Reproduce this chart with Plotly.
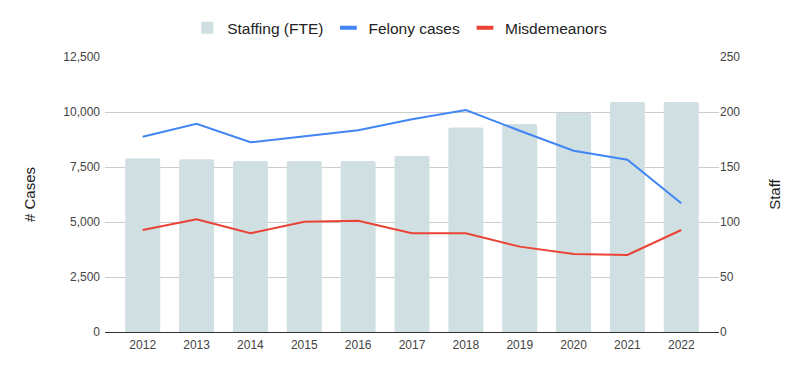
import plotly.graph_objects as go

years = ["2012", "2013", "2014", "2015", "2016", "2017", "2018", "2019", "2020", "2021", "2022"]
staffing = [158, 157, 155.5, 155.5, 155.5, 160, 186, 189, 199, 209, 209]
felony = [8877, 9468, 8623, 8880, 9168, 9668, 10091, 9150, 8241, 7832, 5850]
misdemeanors = [4636, 5121, 4485, 5015, 5060, 4485, 4485, 3880, 3545, 3500, 4636]

left_ticks = [0, 2500, 5000, 7500, 10000, 12500]
right_ticks = [0, 50, 100, 150, 200, 250]

font_family = "Liberation Sans, Arial, sans-serif"
bar_color = "#d0dfe2"
felony_color = "#4285f4"
misd_color = "#ea4335"

fig = go.Figure()
# bars on base axis y (staff, right side)
fig.add_trace(go.Bar(
    x=years, y=staffing, name="Staffing (FTE)", yaxis="y",
    marker=dict(color=bar_color, line=dict(width=0), cornerradius=2),
    width=0.65, showlegend=False,
))
# lines on overlay axis y2 (cases, left side)
fig.add_trace(go.Scatter(
    x=years, y=felony, name="Felony cases", mode="lines", yaxis="y2",
    line=dict(color=felony_color, width=2), showlegend=False,
))
fig.add_trace(go.Scatter(
    x=years, y=misdemeanors, name="Misdemeanors", mode="lines", yaxis="y2",
    line=dict(color=misd_color, width=2), showlegend=False,
))
# legend entries
fig.add_trace(go.Scatter(x=[None], y=[None], mode="markers", name="Staffing (FTE)",
                         marker=dict(symbol="square", size=12, color=bar_color)))
fig.add_trace(go.Scatter(x=[None], y=[None], mode="markers", name="Felony cases",
                         marker=dict(symbol="line-ew", size=12,
                                     line=dict(color=felony_color, width=4))))
fig.add_trace(go.Scatter(x=[None], y=[None], mode="markers", name="Misdemeanors",
                         marker=dict(symbol="line-ew", size=12,
                                     line=dict(color=misd_color, width=4))))

fig.update_layout(
    width=805, height=371,
    margin=dict(l=97, r=94, t=49, b=47, autoexpand=False),
    paper_bgcolor="white", plot_bgcolor="white",
    font=dict(family=font_family, size=12, color="#444444"),
    showlegend=True,
    legend=dict(orientation="h", x=0.48, xanchor="center", y=1.105, yanchor="middle",
                font=dict(size=15.5, color="#222222"), traceorder="normal",
                itemwidth=30),
    xaxis=dict(type="category", range=[-0.7, 10.7], showgrid=False,
               showline=True, linecolor="#333333", linewidth=1,
               ticks="", ticklabelstandoff=2, tickfont=dict(size=12, color="#444444")),
    yaxis=dict(range=[0, 250], tickvals=right_ticks, side="right",
               showgrid=True, gridcolor="#cccccc", gridwidth=1,
               zeroline=False, ticks="",
               tickfont=dict(size=12, color="#444444"),
               title=dict(text="Staff", font=dict(size=15, color="#222222"), standoff=30)),
    yaxis2=dict(range=[0, 12500], tickvals=left_ticks, overlaying="y", side="left",
                ticktext=[f"{v:,}" for v in left_ticks],
                showgrid=False, zeroline=False, ticks="", ticklabelstandoff=4,
                tickfont=dict(size=12, color="#444444"),
                title=dict(text="# Cases", font=dict(size=15, color="#222222"), standoff=24)),
)

fig.write_html("out.html")
